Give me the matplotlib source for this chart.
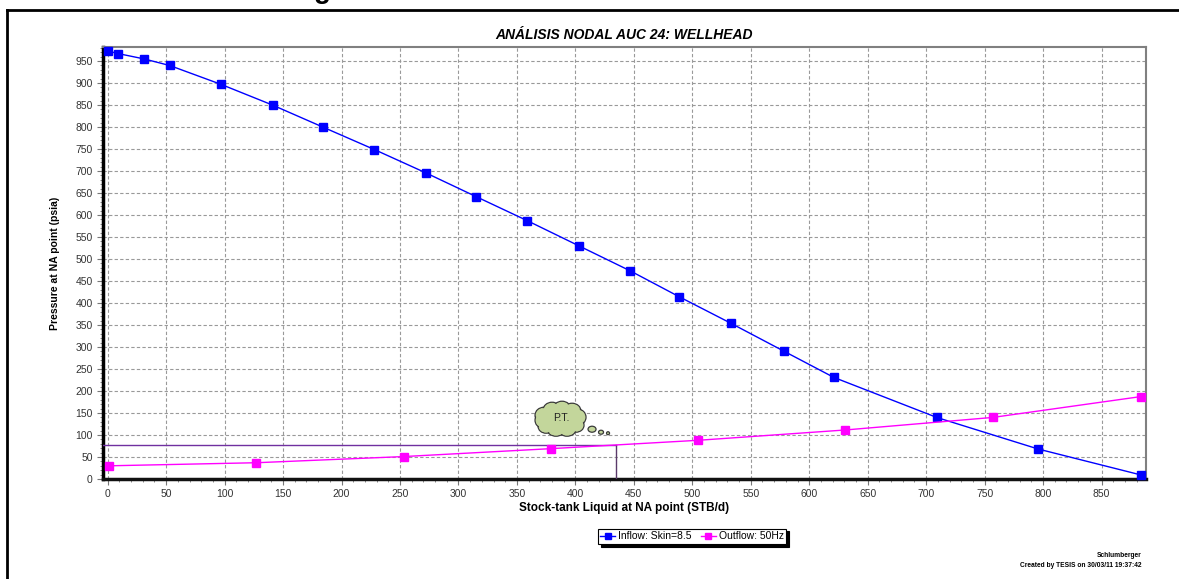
import matplotlib.pyplot as plt
from matplotlib.patches import Ellipse
from matplotlib.transforms import ScaledTranslation
from matplotlib.lines import Line2D

plt.rcParams['font.family'] = ['Liberation Sans', 'DejaVu Sans']

# inflow curve (Skin=8.5)
inflow_q = [0, 9, 31, 53, 97, 141, 184, 228, 272, 315, 359, 403, 447, 489, 533, 578, 621, 709, 796, 884]
inflow_p = [973, 967, 955, 940, 897, 850, 800, 749, 696, 642, 587, 530, 473, 414, 354, 291, 231, 140, 68, 9]

# outflow curve (50Hz)
outflow_q = [1, 127, 253, 379, 505, 631, 757, 884]
outflow_p = [30, 37, 51, 69, 88, 111.5, 140, 187.5]

# operating point
op_q = 434.5
op_p = 78.3

x_ticks = list(range(0, 851, 50))
y_ticks = list(range(0, 951, 50))

fig = plt.figure(figsize=(11.79, 5.79), dpi=100)
ax = fig.add_axes([0.0874, 0.1727, 0.8846, 0.7461])

ax.set_xlim(-4, 888)
ax.set_ylim(0, 982)

ax.plot(inflow_q, inflow_p, color='#0000FF', lw=1, marker='s', ms=6,
        mec='#0000FF', mfc='#0000FF', label='Inflow: Skin=8.5', clip_on=False, zorder=4)
ax.plot(outflow_q, outflow_p, color='#FF00FF', lw=1, marker='s', ms=6,
        mec='#FF00FF', mfc='#FF00FF', label='Outflow: 50Hz', clip_on=False, zorder=4)

# operating point lines
ax.plot([-4, op_q], [op_p, op_p], color='#7030A0', lw=1, zorder=3)
ax.plot([op_q, op_q], [0, op_p], color='#5a3a6a', lw=1, zorder=3)

# thought cloud "P.T."
cx, cy = 387.7, 135.9
tr = fig.dpi_scale_trans + ScaledTranslation(cx, cy, ax.transData)
lobes = [(-17, 4, 18, 16), (-9, 9, 18, 16), (1, 10, 18, 16), (11, 8, 18, 16),
         (17, 2, 16, 16), (15, -6, 16, 14), (6, -10, 18, 14), (-5, -10, 18, 14),
         (-15, -7, 16, 14), (-20, -1, 12, 14), (0, 0, 38, 22)]
for dx, dy, w, h in lobes:
    ax.add_patch(Ellipse((dx / 100, dy / 100), w / 100, h / 100, transform=tr,
                         fc='#C3D69B', ec='#3a3a3a', lw=0.9, zorder=5))
for dx, dy, w, h in lobes:
    ax.add_patch(Ellipse((dx / 100, dy / 100), (w - 1.8) / 100, (h - 1.8) / 100, transform=tr,
                         fc='#C3D69B', ec='none', zorder=6))
for dx, dy, w, h in [(31, -10, 8, 6), (40, -13, 5, 4), (47, -14, 3, 3)]:
    ax.add_patch(Ellipse((dx / 100, dy / 100), w / 100, h / 100, transform=tr,
                         fc='#C3D69B', ec='#3a3a3a', lw=0.9, zorder=6))
ax.text(cx, cy + 3, 'P.T.', ha='center', va='center', fontsize=7.5, color='#222222', zorder=7)

# grid, ticks, spines
ax.set_xticks(x_ticks)
ax.set_yticks(y_ticks)
ax.set_xticks(range(0, 881, 10), minor=True)
ax.set_yticks(range(0, 981, 10), minor=True)
ax.grid(True, which='major', ls=(0, (3, 2)), color='#999999', lw=0.8)
ax.tick_params(which='both', colors='#777777', labelcolor='#333333', labelsize=7.5, direction='out')
ax.tick_params(which='major', length=4)
ax.tick_params(which='minor', length=2)
ax.spines['left'].set_linewidth(2.5)
ax.spines['left'].set_color('black')
ax.spines['bottom'].set_linewidth(2.5)
ax.spines['bottom'].set_color('#111111')
ax.spines['top'].set_color('#808080')
ax.spines['right'].set_color('#808080')
ax.spines['top'].set_linewidth(1.5)
ax.spines['right'].set_linewidth(1.5)

ax.set_title('ANÁLISIS NODAL AUC 24: WELLHEAD', fontsize=10, fontweight='bold',
             fontstyle='italic', pad=6)
ax.set_xlabel('Stock-tank Liquid at NA point (STB/d)', fontsize=8.5, fontweight='bold', labelpad=2)
ax.set_ylabel('Pressure at NA point (psia)', fontsize=7.5, fontweight='bold', labelpad=11)

leg = fig.legend(loc='center', bbox_to_anchor=(0.587, 0.074), ncol=2, fontsize=7.5,
                 frameon=True, fancybox=False, shadow={'color': 'black', 'alpha': 1},
                 handlelength=1.4, columnspacing=0.9, handletextpad=0.3, markerscale=0.75,
                 borderpad=0.25, edgecolor='black')
leg.get_frame().set_linewidth(0.8)

fig.text(0.968, 0.04, 'Schlumberger', ha='right', va='center', fontsize=4.8, fontweight='bold')
fig.text(0.968, 0.023, 'Created by TESIS on 30/03/11 19:37:42', ha='right', va='center',
         fontsize=4.8, fontweight='bold')

# outer frame and clipped heading
fig.add_artist(Line2D([0.006, 1.0], [0.9835, 0.9835], transform=fig.transFigure, color='black', lw=2))
fig.add_artist(Line2D([0.006, 0.006], [0.0, 0.9835], transform=fig.transFigure, color='black', lw=2))
fig.text(0.273, 1.003, 'g', ha='center', va='baseline', fontsize=20, fontweight='bold')

fig.savefig('out.png', dpi=100)
